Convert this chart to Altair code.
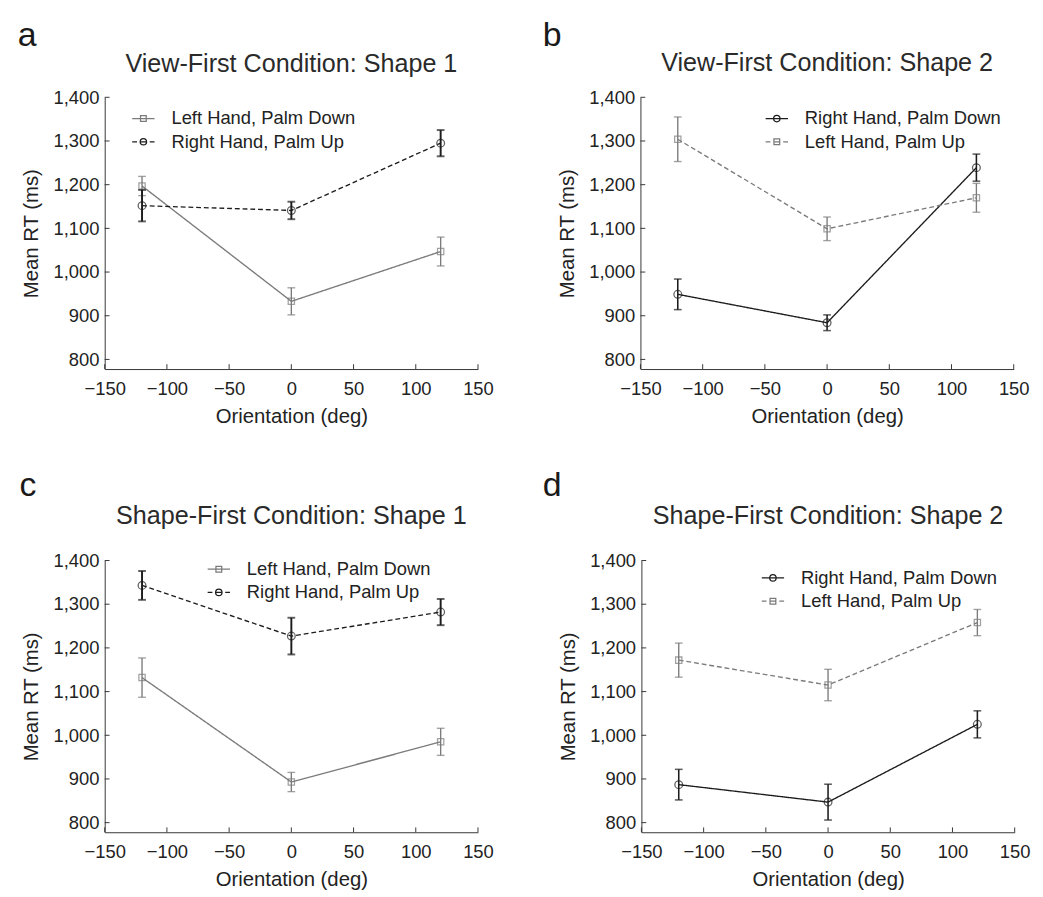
import altair as alt
import pandas as pd

# ---------------- data ----------------
orientations = [-120, 0, 120]
x_ticks = [-150, -100, -50, 0, 50, 100, 150]
y_ticks = [800, 900, 1000, 1100, 1200, 1300, 1400]
y_domain = [778, 1400]
x_domain = [-150, 150]

panel_letters = ["a", "b", "c", "d"]
panel_titles = [
    "View-First Condition: Shape 1",
    "View-First Condition: Shape 2",
    "Shape-First Condition: Shape 1",
    "Shape-First Condition: Shape 2",
]

# panel a
a_series = ["Left Hand, Palm Down", "Right Hand, Palm Up"]
a_left_down_rt = [1197, 933, 1047]
a_left_down_err = [22, 31, 33]
a_right_up_rt = [1152, 1141, 1295]
a_right_up_err = [36, 20, 30]

# panel b
b_series = ["Right Hand, Palm Down", "Left Hand, Palm Up"]
b_right_down_rt = [949, 884, 1239]
b_right_down_err = [35, 18, 31]
b_left_up_rt = [1304, 1099, 1170]
b_left_up_err = [51, 27, 33]

# panel c
c_series = ["Left Hand, Palm Down", "Right Hand, Palm Up"]
c_left_down_rt = [1132, 893, 985]
c_left_down_err = [45, 22, 31]
c_right_up_rt = [1343, 1227, 1282]
c_right_up_err = [33, 42, 30]

# panel d
d_series = ["Right Hand, Palm Down", "Left Hand, Palm Up"]
d_right_down_rt = [887, 847, 1025]
d_right_down_err = [35, 41, 31]
d_left_up_rt = [1172, 1115, 1258]
d_left_up_err = [39, 36, 30]

# ---------------- styles ----------------
GRAY = "#7b7b7b"
BLACK = "#1c1c1c"
TXT = "#222222"
FONT = "Liberation Sans"

SQ = "M-0.27,-0.27H0.27V0.27H-0.27Z"
CI = "M-0.3,0A0.3,0.3 0 1,1 0.3,0A0.3,0.3 0 1,1 -0.3,0Z"
SOLID = "M-1.05,0H1.05"
DASHED = "M-1.05,0H-0.6M-0.3,0H0.3M0.6,0H1.05"

STYLE = {
    "Left Hand, Palm Down": dict(color=GRAY, dash=[1, 0], shape="square", size=42, ew=1.4, legend=SOLID + SQ),
    "Right Hand, Palm Up": dict(color=BLACK, dash=[5, 3], shape="circle", size=64, ew=2.0, legend=DASHED + CI),
    "Right Hand, Palm Down": dict(color=BLACK, dash=[1, 0], shape="circle", size=64, ew=1.6, legend=SOLID + CI),
    "Left Hand, Palm Up": dict(color=GRAY, dash=[5, 3], shape="square", size=42, ew=1.4, legend=DASHED + SQ),
}

W, H = 386, 281

x_scale = alt.Scale(domain=x_domain, nice=False, zero=False)
y_scale = alt.Scale(domain=y_domain, nice=False, zero=False)

x_axis = alt.Axis(values=x_ticks, ticks=False, grid=False, title="Orientation (deg)", format="d",
                  labelFontSize=19, titleFontSize=21, labelFont=FONT, titleFont=FONT,
                  labelColor=TXT, titleColor=TXT, titleFontWeight="normal",
                  labelPadding=11, titlePadding=8, labelFlush=False, labelOverlap=False,
                  domainColor="#333333", domainWidth=1)
y_axis = alt.Axis(values=y_ticks, ticks=False, grid=False, title="Mean RT (ms)", format=",d",
                  labelFontSize=19, titleFontSize=21, labelFont=FONT, titleFont=FONT,
                  labelColor=TXT, titleColor=TXT, titleFontWeight="normal",
                  labelPadding=6, titlePadding=12, labelFlush=False, labelOverlap=False,
                  domainColor="#333333", domainWidth=1)


def make_panel(letter, title, series, rts, errs, legend_xy, title_dy, letter_dxy):
    rows = []
    for s, rt, er in zip(series, rts, errs):
        for o, r, e in zip(orientations, rt, er):
            rows.append({"orient": o, "rt": r, "lo": r - e, "hi": r + e, "series": s})
    df = pd.DataFrame(rows)

    X = alt.X("orient:Q", scale=x_scale, axis=x_axis)
    layers = []
    for s in series:
        st = STYLE[s]
        sdf = df[df["series"] == s]
        base = alt.Chart(sdf)
        layers.append(base.mark_line(color=st["color"], strokeDash=st["dash"], strokeWidth=1.4)
                      .encode(x=X, y=alt.Y("rt:Q", scale=y_scale, axis=y_axis)))
        layers.append(base.mark_rule(color=st["color"], strokeWidth=st["ew"])
                      .encode(x=X, y=alt.Y("lo:Q", scale=y_scale, axis=y_axis), y2="hi:Q"))
        layers.append(base.mark_tick(color=st["color"], orient="horizontal", size=8, thickness=st["ew"])
                      .encode(x=X, y=alt.Y("hi:Q", scale=y_scale, axis=y_axis)))
        layers.append(base.mark_tick(color=st["color"], orient="horizontal", size=8, thickness=st["ew"])
                      .encode(x=X, y=alt.Y("lo:Q", scale=y_scale, axis=y_axis)))
        layers.append(base.mark_point(shape=st["shape"], size=st["size"], color=st["color"],
                                      filled=False, strokeWidth=1.3)
                      .encode(x=X, y=alt.Y("rt:Q", scale=y_scale, axis=y_axis)))

    # inward tick marks
    xt = pd.DataFrame({"v": x_ticks})
    yt = pd.DataFrame({"v": y_ticks})
    layers.append(alt.Chart(xt).mark_rule(color="#333333", strokeWidth=1)
                  .encode(x=alt.X("v:Q", scale=x_scale, axis=x_axis), y=alt.value(H), y2=alt.value(H - 5)))
    layers.append(alt.Chart(yt).mark_rule(color="#333333", strokeWidth=1)
                  .encode(y=alt.Y("v:Q", scale=y_scale, axis=y_axis), x=alt.value(0), x2=alt.value(5)))

    # legend layer (invisible points, legend drawn by Vega)
    leg = alt.Legend(orient="none", legendX=legend_xy[0], legendY=legend_xy[1], title=None,
                     labelFontSize=19, labelFont=FONT, labelColor=TXT, labelLimit=0,
                     symbolSize=484, symbolStrokeWidth=1.3, labelOffset=17,
                     rowPadding=2, padding=0, symbolOpacity=1)
    layers.append(alt.Chart(df).mark_point(opacity=0, filled=False)
                  .encode(x=X, y=alt.Y("rt:Q", scale=y_scale, axis=y_axis),
                          color=alt.Color("series:N", sort=series,
                                          scale=alt.Scale(domain=series, range=[STYLE[s]["color"] for s in series]),
                                          legend=leg),
                          shape=alt.Shape("series:N", sort=series,
                                          scale=alt.Scale(domain=series, range=[STYLE[s]["legend"] for s in series]),
                                          legend=leg)))

    # panel title and letter
    tdf = pd.DataFrame({"t": [title]})
    ldf = pd.DataFrame({"t": [letter]})
    layers.append(alt.Chart(tdf).mark_text(fontSize=26, font=FONT, color="#2a2a2a", align="center",
                                           baseline="alphabetic")
                  .encode(text="t:N", x=alt.value(W / 2), y=alt.value(title_dy)))
    layers.append(alt.Chart(ldf).mark_text(fontSize=35, font=FONT, color="#1a1a1a", align="left",
                                           baseline="alphabetic")
                  .encode(text="t:N", x=alt.value(letter_dxy[0]), y=alt.value(letter_dxy[1])))

    return alt.layer(*layers).properties(width=W, height=H)


pa = make_panel(panel_letters[0], panel_titles[0], a_series,
                [a_left_down_rt, a_right_up_rt], [a_left_down_err, a_right_up_err],
                (28, 10), -26, (-90, -53))
pb = make_panel(panel_letters[1], panel_titles[1], b_series,
                [b_right_down_rt, b_left_up_rt], [b_right_down_err, b_left_up_err],
                (129, 10), -27, (-101, -53))
pc = make_panel(panel_letters[2], panel_titles[2], c_series,
                [c_left_down_rt, c_right_up_rt], [c_left_down_err, c_right_up_err],
                (106, -3), -38, (-88, -67))
pd_ = make_panel(panel_letters[3], panel_titles[3], d_series,
                 [d_right_down_rt, d_left_up_rt], [d_right_down_err, d_left_up_err],
                 (124, 6), -38, (-102, -67))

ind = dict(color="independent", shape="independent")
row1 = alt.hconcat(pa, pb, spacing=51).resolve_scale(**ind).resolve_legend(color="independent", shape="independent")
row2 = alt.hconcat(pc, pd_, spacing=51).resolve_scale(**ind).resolve_legend(color="independent", shape="independent")

chart = alt.vconcat(row1, row2, spacing=44).resolve_scale(**ind).resolve_legend(
    color="independent", shape="independent"
).configure_view(stroke=None).properties(
    padding={"left": 10, "top": -4, "right": 5, "bottom": 5}
)

chart.save("out.html", embed_options={"renderer": "svg", "actions": False})
